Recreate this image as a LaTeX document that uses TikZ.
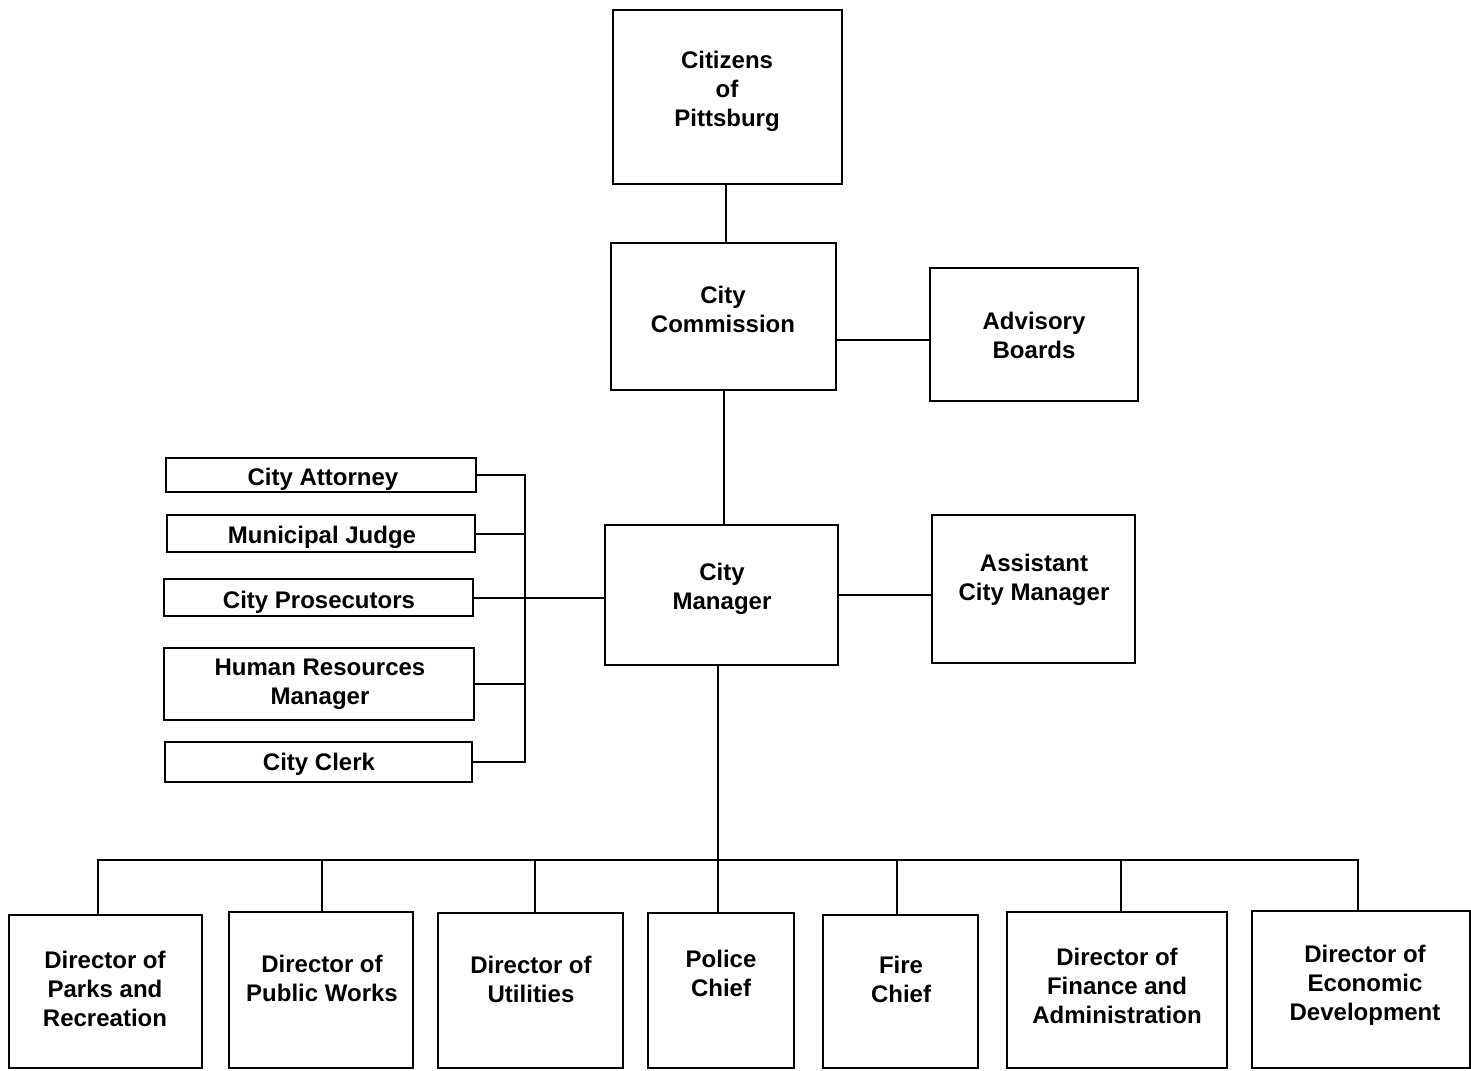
\documentclass[tikz,border=0pt]{standalone}
\usepackage{fontspec}
\setmainfont{Liberation Sans}
\begin{document}
\begin{tikzpicture}[x=0.5pt,y=-0.5pt,
  box/.style={draw=black, line width=1pt, inner sep=0pt, outer sep=0pt, fill=white},
  lbl/.style={align=center, inner sep=0pt, yshift=-1pt, font=\fontsize{12}{14.5}\selectfont\bfseries},
  conn/.style={draw=black, line width=1pt}]
\useasboundingbox (0,0) rectangle (1471,1070);
\clip (0,0) rectangle (1471,1070);
\newcommand{\bx}[5]{\node[box, minimum width={(#4-#2)*0.5pt}, minimum height={(#5-#3)*0.5pt}] (#1) at ({(#2+#4)/2},{(#3+#5)/2}) {};}
% top
\bx{citizens}{613}{10}{842}{184}
\bx{commission}{611}{243}{836}{390}
\bx{advisory}{930}{268}{1138}{401}
\bx{manager}{605}{525}{838}{665}
\bx{assistant}{932}{515}{1135}{663}
% left staff
\bx{attorney}{166}{458}{476}{492}
\bx{judge}{167}{515}{475}{552}
\bx{prosecutors}{164}{579}{473}{616}
\bx{hr}{164}{648}{474}{720}
\bx{clerk}{165}{742}{472}{782}
% bottom
\bx{parks}{9}{915}{202}{1068}
\bx{works}{229}{912}{413}{1068}
\bx{utilities}{438}{913}{623}{1068}
\bx{police}{648}{913}{794}{1068}
\bx{fire}{823}{915}{978}{1068}
\bx{finance}{1007}{912}{1227}{1068}
\bx{econ}{1252}{911}{1470}{1068}
% labels
\node[lbl] (tcit) at (727,89) {Citizens\\of\\Pittsburg};
\node[lbl] (tcom) at (723,307) {City\\Commission};
\node[lbl] (tadv) at (1034,333) {Advisory\\Boards};
\node[lbl] (tman) at (722,587) {City\\Manager};
\node[lbl] (tass) at (1034,578) {Assistant\\City Manager};
\node[lbl] (tatt) at (323,477) {City Attorney};
\node[lbl] (tjud) at (322,535) {Municipal Judge};
\node[lbl] (tpro) at (319,600) {City Prosecutors};
\node[lbl] (thr) at (320,682) {Human Resources\\Manager};
\node[lbl] (tcle) at (319,762) {City Clerk};
\node[lbl] (tpar) at (105,987) {Director of\\Parks and\\Recreation};
\node[lbl] (twor) at (322,976) {Director of\\Public Works};
\node[lbl] (tuti) at (531,977) {Director of\\Utilities};
\node[lbl] (tpol) at (721,971) {Police\\Chief};
\node[lbl] (tfir) at (901,977) {Fire\\Chief};
\node[lbl] (tfin) at (1117,984) {Director of\\Finance and\\Administration};
\node[lbl] (teco) at (1365,983) {Director of\\Economic\\Development};
% connectors
\coordinate (c1) at (726,0);
\draw[conn] (citizens.south -| c1) -- (commission.north -| c1);
\coordinate (c2) at (724,340);
\draw[conn] (commission.south -| c2) -- (manager.north -| c2);
\draw[conn] (commission.east |- c2) -- (advisory.west |- c2);
\draw[conn] (manager.east) -- (manager.east -| assistant.west);
\coordinate (lb) at (525,0);
\draw[conn] (attorney.east) -- (attorney.east -| lb) -- (clerk.east -| lb) -- (clerk.east);
\draw[conn] (judge.east) -- (judge.east -| lb);
\draw[conn] (prosecutors.east) -- (prosecutors.east -| manager.west);
\draw[conn] (hr.east) -- (hr.east -| lb);
\coordinate (trunk) at (718,860);
\draw[conn] (manager.south -| trunk) -- (police.north -| trunk);
\coordinate (d1) at (98,860);
\coordinate (d2) at (322,860);
\coordinate (d3) at (535,860);
\coordinate (d5) at (897,860);
\coordinate (d6) at (1121,860);
\coordinate (d7) at (1358,860);
\draw[conn] (parks.north -| d1) -- (d1) -- (d7) -- (econ.north -| d7);
\draw[conn] (d2) -- (works.north -| d2);
\draw[conn] (d3) -- (utilities.north -| d3);
\draw[conn] (d5) -- (fire.north -| d5);
\draw[conn] (d6) -- (finance.north -| d6);
\end{tikzpicture}
\end{document}
